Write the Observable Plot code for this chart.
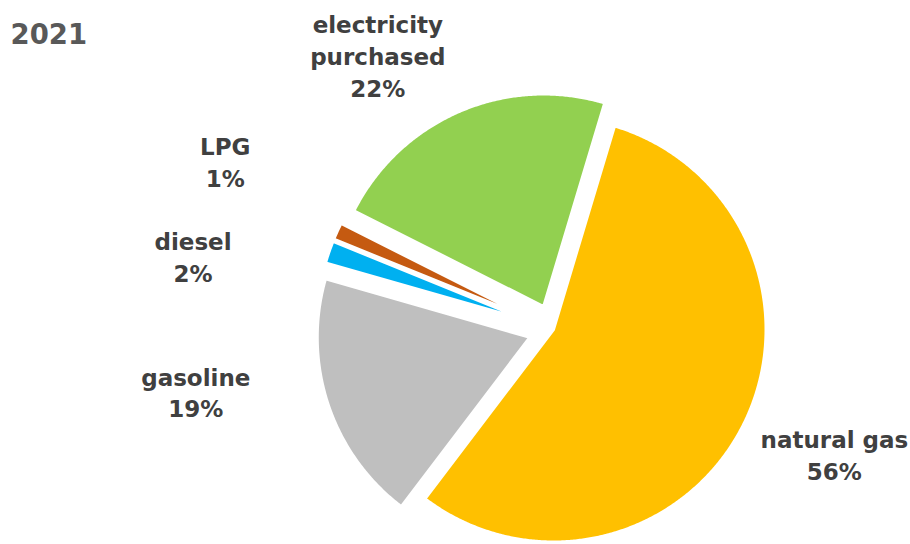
<!DOCTYPE html>
<html>
<head>
<meta charset="utf-8">
<script src="https://cdn.jsdelivr.net/npm/d3@7"></script>
<script src="https://cdn.jsdelivr.net/npm/@observablehq/plot@0.6"></script>
<style>
  html, body { margin: 0; padding: 0; background: #ffffff; }
  #chart { width: 910px; height: 544px; overflow: hidden; }
</style>
</head>
<body>
<div id="chart"></div>
<script>
// ---- data ----
const title = "2021";
const categories = ["natural gas", "gasoline", "diesel", "LPG", "electricity purchased"];
const labelNames = ["natural gas", "gasoline", "diesel", "LPG", "electricity\npurchased"];
const shares = [55.7, 19.1, 1.7, 1.3, 22.2];
const colors = ["#FFC000", "#BFBFBF", "#00B0F0", "#C55A11", "#92D050"];

// ---- layout ----
const W = 910, H = 544;
const CX = 553, CY = 329;       // pie centre in pixels
const R = 212.5;                // pie radius
const startDeg = 16.7;          // first slice angle (clockwise from 12 o'clock)
const explode = [0, 25, 25, 25, 25];
// label anchor as [angle deg clockwise from 12 o'clock, distance from centre]
const labelPolar = [[113.8, 307], [260.2, 363], [281.6, 368], [297.2, 369], [327.4, 326]];

const rad = Math.PI / 180;
const arcs = d3.pie().sort(null).value(d => d)
  .startAngle(startDeg * rad).endAngle(startDeg * rad + 2 * Math.PI)(shares);

const pts = [];
arcs.forEach((a, i) => {
  const bis = (a.startAngle + a.endAngle) / 2;
  const ox = explode[i] * Math.sin(bis), oy = explode[i] * Math.cos(bis);
  const name = categories[i];
  pts.push({name, x: ox, y: oy});
  const n = Math.max(8, Math.ceil((a.endAngle - a.startAngle) / (0.4 * rad)));
  for (let k = 0; k <= n; k++) {
    const t = a.startAngle + (a.endAngle - a.startAngle) * k / n;
    pts.push({name, x: ox + R * Math.sin(t), y: oy + R * Math.cos(t)});
  }
  pts.push({name, x: ox, y: oy});
});

const labels = categories.map((c, i) => ({
  text: labelNames[i] + "\n" + Math.round(shares[i]) + "%",
  x: labelPolar[i][1] * Math.sin(labelPolar[i][0] * rad),
  y: labelPolar[i][1] * Math.cos(labelPolar[i][0] * rad)
}));

const chart = Plot.plot({
  width: W,
  height: H,
  margin: 0,
  x: {domain: [-CX, W - CX], axis: null},
  y: {domain: [CY - H, CY], axis: null},
  color: {domain: categories, range: colors},
  style: {background: "#ffffff", overflow: "visible"},
  marks: [
    Plot.line(pts, {
      x: "x", y: "y", z: "name", fill: "name",
      stroke: "#ffffff", strokeWidth: 3, strokeLinejoin: "round"
    }),
    Plot.text(labels, {
      x: "x", y: "y", text: "text",
      fill: "#404040", fontSize: 23, fontWeight: "bold",
      fontFamily: "DejaVu Sans", lineHeight: 1.39
    }),
    Plot.text([title], {
      text: d => d, frameAnchor: "top-left", textAnchor: "start", lineAnchor: "top",
      dx: 10, dy: 24, fill: "#595959", fontSize: 27.5, fontWeight: "bold",
      fontFamily: "DejaVu Sans"
    })
  ]
});
document.getElementById("chart").appendChild(chart);
</script>
</body>
</html>
